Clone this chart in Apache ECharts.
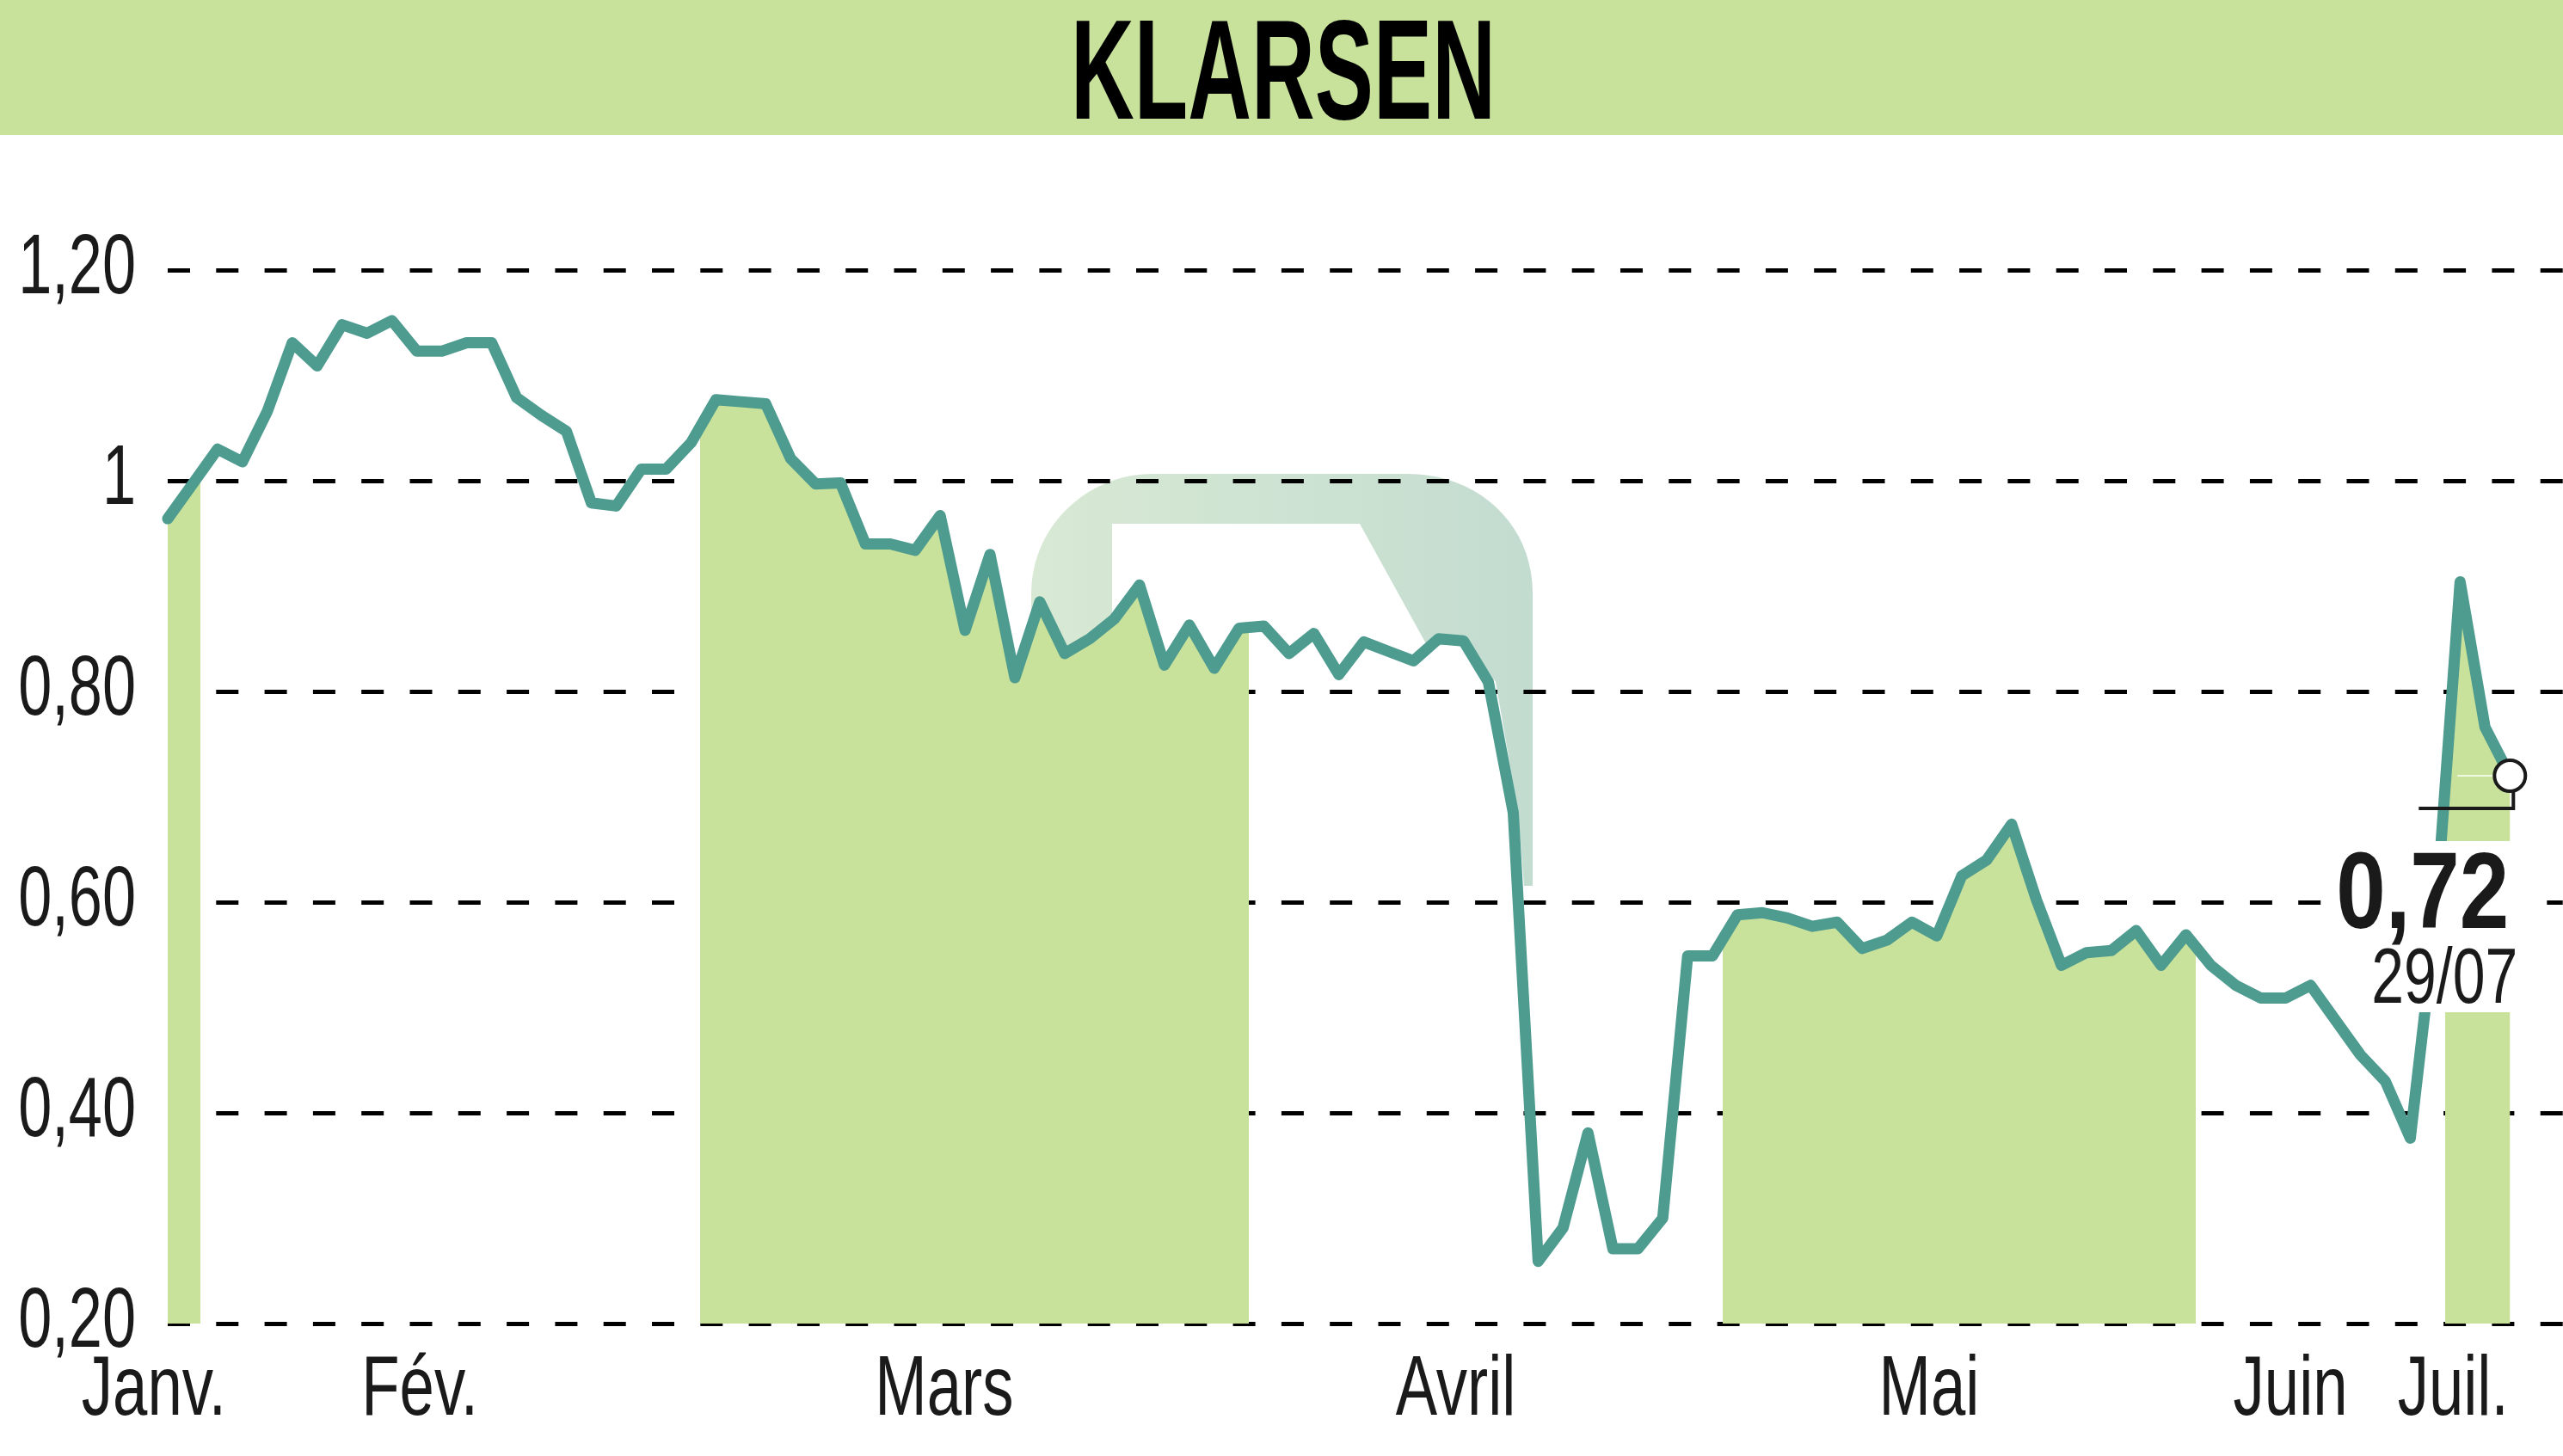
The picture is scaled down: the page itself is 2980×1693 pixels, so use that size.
<!DOCTYPE html>
<html>
<head>
<meta charset="utf-8">
<title>KLARSEN</title>
<script src="https://cdn.jsdelivr.net/npm/echarts@6.0.0/dist/echarts.min.js"></script>
<style>
  html, body { margin: 0; padding: 0; background: #fff; }
  #chart { width: 2980px; height: 1693px; }
</style>
</head>
<body>
<div id="chart"></div>
<script>
// cours de l'action, un point par séance (x = n° de séance)
var title = 'KLARSEN';
var months = ['Janv.', 'Fév.', 'Mars', 'Avril', 'Mai', 'Juin', 'Juil.'];
// limites entre les mois, en n° de séance
var monthEdges = [0, 1.3, 21.35, 43.4, 62.4, 81.4, 91.4, 94.45];
var prices = [
  0.964, 0.997,
  1.030, 1.018, 1.066, 1.131, 1.109, 1.148, 1.140, 1.152, 1.123, 1.123,
  1.131, 1.131, 1.079, 1.062, 1.047, 0.979, 0.976, 1.011, 1.011, 1.036,
  1.077, 1.075, 1.073, 1.021, 0.997, 0.998, 0.940, 0.940, 0.934, 0.967,
  0.858, 0.930, 0.813, 0.885, 0.836, 0.850, 0.869, 0.901, 0.825, 0.863,
  0.822, 0.860,
  0.862, 0.836, 0.855, 0.816, 0.847, 0.838, 0.829, 0.850, 0.848, 0.809,
  0.685, 0.259, 0.291, 0.381, 0.271, 0.271, 0.300, 0.549, 0.549,
  0.588, 0.590, 0.585, 0.577, 0.581, 0.556, 0.564, 0.581, 0.568, 0.625,
  0.640, 0.674, 0.602, 0.540, 0.552, 0.554, 0.573, 0.540, 0.569,
  0.540, 0.521, 0.509, 0.509, 0.521, 0.488, 0.455, 0.430, 0.376, 0.580,
  0.904, 0.766, 0.720
];
var yTicks = [0.2, 0.4, 0.6, 0.8, 1, 1.2];
var lastValue = '0,72';
var lastDate = '29/07';

var GREEN = '#c8e29c';
var TEAL = '#4e9b8f';
var INK = '#1a1a1a';
var FAMILY = '"Liberation Sans", Arial, sans-serif';
var X_MAX = 96.13;
// pas de police étroite installée : on resserre les textes en largeur
var Y_SQUEEZE = 0.71;
var X_SQUEEZE = 0.74;

var myChart = echarts.init(document.getElementById('chart'));

function yLabel(v) {
  if (Math.abs(v - 1) < 1e-9) return '1';
  return v.toFixed(2).replace('.', ',');
}

// centre de chaque mois, pour le libellé
var monthCenters = [];
for (var i = 0; i < months.length; i++) {
  monthCenters.push((monthEdges[i] + monthEdges[i + 1]) / 2);
}
// bandes vertes un mois sur deux
var bandPieces = [];
for (var k = 0; k < months.length; k++) {
  bandPieces.push({
    gte: monthEdges[k],
    lt: monthEdges[k + 1],
    color: k % 2 === 0 ? GREEN : 'rgba(255,255,255,0)'
  });
}

var seriesData = prices.map(function (v, i) { return [i, v]; });

// largeur du titre
var ctx = document.createElement('canvas').getContext('2d');
ctx.font = 'bold 165px ' + FAMILY;
var titleScale = 494 / ctx.measureText(title).width;

// courbe de Bézier en points, pour le filigrane
function bez(p0, p1, p2, p3, n) {
  var pts = [];
  for (var s = 0; s <= n; s++) {
    var t = s / n, u = 1 - t;
    pts.push([
      u * u * u * p0[0] + 3 * u * u * t * p1[0] + 3 * u * t * t * p2[0] + t * t * t * p3[0],
      u * u * u * p0[1] + 3 * u * u * t * p1[1] + 3 * u * t * t * p2[1] + t * t * t * p3[1]
    ]);
  }
  return pts;
}
var logoPts = [[1199, 900]]
  .concat(bez([1199, 690], [1199, 613], [1263, 551], [1340, 551], 20))
  .concat(bez([1637, 551], [1717, 551], [1782, 608], [1782, 690], 20))
  .concat([[1782, 1030], [1772, 1030], [1765, 943], [1739, 793], [1706, 747],
    [1660, 752], [1581, 609], [1293, 609], [1293, 900]]);

var option = {
  animation: false,
  backgroundColor: '#fff',
  grid: { left: 195, right: 0, top: 314, bottom: 154, outerBoundsMode: 'none', containLabel: false },
  xAxis: {
    type: 'value',
    min: 0,
    max: X_MAX,
    axisLine: { show: false },
    axisTick: { show: false },
    splitLine: { show: false },
    axisLabel: {
      // une valeur vide en bout d'axe, pour que Juin et Juil. restent affichés
      customValues: monthCenters.concat([X_MAX]),
      margin: 30,
      hideOverlap: false,
      showMinLabel: true,
      showMaxLabel: false,
      formatter: function (v) {
        if (v >= X_MAX) return '';
        var best = 0;
        for (var j = 1; j < monthCenters.length; j++) {
          if (Math.abs(monthCenters[j] - v) < Math.abs(monthCenters[best] - v)) best = j;
        }
        return '{m|' + months[best] + '}';
      },
      rich: {
        m: {
          fontFamily: FAMILY, fontSize: 98, lineHeight: 98,
          color: INK, padding: [0, 70 / X_SQUEEZE, 0, 0]
        }
      }
    }
  },
  yAxis: {
    type: 'value',
    min: yTicks[0],
    max: yTicks[yTicks.length - 1],
    interval: 0.2,
    axisLine: { show: false },
    axisTick: { show: false },
    axisLabel: {
      margin: 37,
      fontFamily: FAMILY,
      fontSize: 99,
      color: INK,
      padding: [13, 0, 0, 0],
      formatter: yLabel
    },
    splitLine: {
      lineStyle: { color: '#000', width: 5, type: [26, 30.3] }
    }
  },
  visualMap: {
    show: false,
    type: 'piecewise',
    seriesIndex: 1,
    dimension: 0,
    pieces: bandPieces,
    outOfRange: { color: 'rgba(255,255,255,0)' }
  },
  graphic: [
    {
      id: 'header', type: 'rect', z: 0, silent: true,
      shape: { x: 0, y: 0, width: 2980, height: 157 },
      style: { fill: GREEN }
    },
    {
      id: 'title', type: 'text', z: 1, silent: true,
      x: 1492, y: 92, scaleX: titleScale,
      style: {
        text: title, fontWeight: 'bold', fontSize: 165, fontFamily: FAMILY,
        fill: '#000', align: 'center', verticalAlign: 'middle'
      }
    },
    {
      // logo en filigrane
      id: 'logo', type: 'polygon', z: -1, silent: true,
      shape: { points: logoPts },
      style: {
        fill: {
          type: 'linear', x: 0, y: 0, x2: 1, y2: 0,
          colorStops: [{ offset: 0, color: '#d8e9d4' }, { offset: 1, color: '#c3dcd0' }]
        }
      }
    }
  ],
  series: [
    {
      type: 'line',
      z: 3,
      data: seriesData,
      showSymbol: false,
      lineStyle: { color: TEAL, width: 13, join: 'round', cap: 'round' }
    },
    {
      type: 'line',
      z: 2,
      data: seriesData,
      showSymbol: false,
      lineStyle: { width: 0, opacity: 0 },
      areaStyle: { opacity: 1, origin: 'start' }
    }
  ]
};
myChart.setOption(option);

// dernier cours : cercle, repère et étiquette
var last = myChart.convertToPixel({ gridIndex: 0 }, [prices.length - 1, prices[prices.length - 1]]);
var lx = last[0];
var ly = last[1];
myChart.setOption({
  graphic: [
    {
      id: 'box1', type: 'rect', z: 10, silent: true,
      shape: { x: lx - 213, y: ly + 76, width: 256, height: 123 },
      style: { fill: '#fff' }
    },
    {
      id: 'box2', type: 'rect', z: 10, silent: true,
      shape: { x: lx - 168, y: ly + 198, width: 177, height: 77 },
      style: { fill: '#fff' }
    },
    {
      id: 'lastLine', type: 'line', z: 10, silent: true,
      shape: { x1: lx - 61, y1: ly, x2: lx - 20, y2: ly },
      style: { stroke: '#fff', lineWidth: 1.5 }
    },
    {
      id: 'bracket', type: 'polyline', z: 11, silent: true,
      shape: { points: [[lx + 4, ly + 18], [lx + 4, ly + 38], [lx - 106, ly + 38]] },
      style: { stroke: INK, lineWidth: 4, fill: null }
    },
    {
      id: 'dot', type: 'circle', z: 12, silent: true,
      shape: { cx: lx, cy: ly, r: 18 },
      style: { fill: '#fff', stroke: INK, lineWidth: 4 }
    },
    {
      id: 'lastValue', type: 'text', z: 12, silent: true,
      x: lx - 1, y: ly + 142, scaleX: 0.82,
      style: {
        text: lastValue, fontWeight: 'bold', fontSize: 126, fontFamily: FAMILY,
        fill: INK, align: 'right', verticalAlign: 'middle'
      }
    },
    {
      id: 'lastDate', type: 'text', z: 12, silent: true,
      x: lx + 9, y: ly + 239, scaleX: 0.755,
      style: {
        text: lastDate, fontSize: 90, fontFamily: FAMILY,
        fill: INK, align: 'right', verticalAlign: 'middle'
      }
    }
  ]
});

// resserre les libellés d'axes (police condensée du modèle)
var squeeze = {};
yTicks.forEach(function (v) { squeeze[yLabel(v)] = Y_SQUEEZE; });
months.forEach(function (m) { squeeze['{m|' + m + '}'] = X_SQUEEZE; });
var zr = myChart.getZr();
zr.storage.getRoots().forEach(function (root) {
  if (!root.traverse) return;
  root.traverse(function (el) {
    if (el.type === 'text' && el.style && squeeze[el.style.text] != null) {
      el.scaleX = squeeze[el.style.text];
      el.markRedraw();
    }
  });
});
zr.refreshImmediately();
</script>
</body>
</html>
